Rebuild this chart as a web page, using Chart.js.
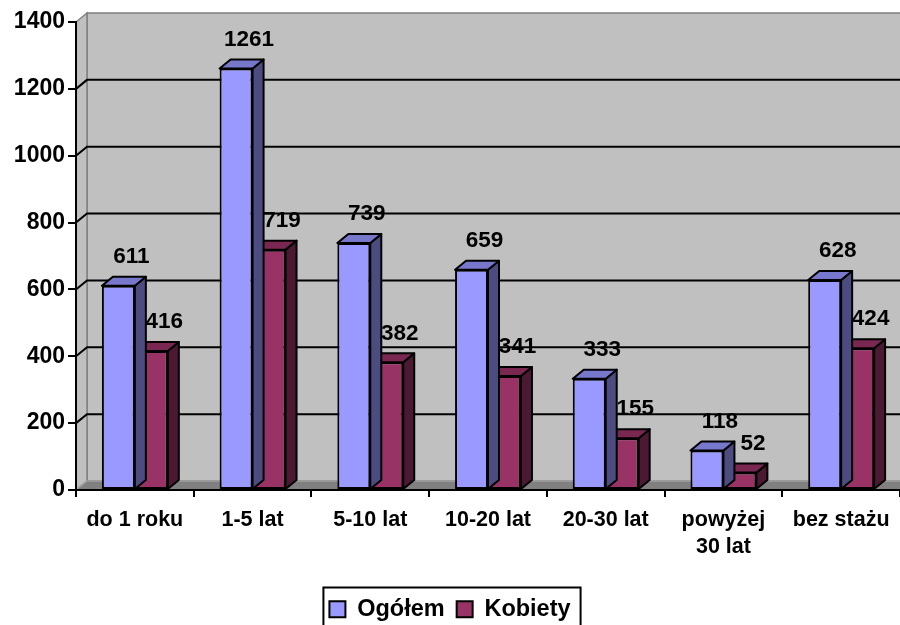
<!DOCTYPE html>
<html>
<head>
<meta charset="utf-8">
<script src="https://cdn.jsdelivr.net/npm/chart.js@4.4.1/dist/chart.umd.min.js"></script>
<style>
  html, body { margin: 0; padding: 0; background: #fff; overflow: hidden; }
</style>
</head>
<body>
<canvas id="chart" width="900" height="625"></canvas>
<script>
const categories = ["do 1 roku", "1-5 lat", "5-10 lat", "10-20 lat", "20-30 lat", ["powyżej", "30 lat"], "bez stażu"];
const ogolem = [611, 1261, 739, 659, 333, 118, 628];
const kobiety = [416, 719, 382, 341, 155, 52, 424];
const yMax = 1400;
const yStep = 200;

const FONT = "'Liberation Sans', Arial, sans-serif";
// depth of the 3D effect
const DX = 11, DY = -9;

const faces = [
  { top: "#7777cc", side: "#4c4c80" },
  { top: "#7a2852", side: "#4c1933" }
];

// back wall, side wall, floor and gridlines
const walls = {
  id: "walls",
  beforeDraw(chart) {
    const { ctx, chartArea: a, scales: { y } } = chart;
    ctx.save();
    ctx.lineWidth = 1.5;
    ctx.strokeStyle = "#808080";
    ctx.fillStyle = "#c0c0c0";
    // back wall
    ctx.fillRect(a.left + DX, a.top + DY, a.right - a.left + 20, a.bottom - a.top);
    ctx.strokeRect(a.left + DX, a.top + DY, a.right - a.left + 20, a.bottom - a.top);
    // left wall
    ctx.beginPath();
    ctx.moveTo(a.left, a.bottom);
    ctx.lineTo(a.left, a.top);
    ctx.lineTo(a.left + DX, a.top + DY);
    ctx.lineTo(a.left + DX, a.bottom + DY);
    ctx.closePath();
    ctx.fill();
    ctx.stroke();
    // floor
    ctx.fillStyle = "#808080";
    ctx.strokeStyle = "#a0a0a0";
    ctx.beginPath();
    ctx.moveTo(a.left, a.bottom);
    ctx.lineTo(a.right + 20, a.bottom);
    ctx.lineTo(a.right + 20, a.bottom + DY);
    ctx.lineTo(a.left + DX, a.bottom + DY);
    ctx.closePath();
    ctx.fill();
    ctx.stroke();
    // gridlines
    ctx.strokeStyle = "#000";
    ctx.lineWidth = 2;
    y.ticks.forEach(t => {
      if (t.value === 0 || t.value === yMax) return;
      const py = y.getPixelForValue(t.value);
      ctx.beginPath();
      ctx.moveTo(a.left, py);
      ctx.lineTo(a.left + DX, py + DY);
      ctx.lineTo(a.right + 20, py + DY);
      ctx.stroke();
    });
    ctx.restore();
  }
};

// side and top faces of each bar
const bars3d = {
  id: "bars3d",
  afterDatasetDraw(chart, args) {
    const { ctx } = chart;
    const col = faces[args.index];
    ctx.save();
    ctx.lineWidth = 2;
    ctx.lineJoin = "round";
    ctx.strokeStyle = "#000";
    args.meta.data.forEach(bar => {
      const l = bar.x - bar.width / 2, r = bar.x + bar.width / 2;
      const t = bar.y, b = bar.base;
      ctx.fillStyle = col.side;
      ctx.beginPath();
      ctx.moveTo(r, t);
      ctx.lineTo(r + DX, t + DY);
      ctx.lineTo(r + DX, b + DY);
      ctx.lineTo(r, b);
      ctx.closePath();
      ctx.fill();
      ctx.stroke();
      ctx.fillStyle = col.top;
      ctx.beginPath();
      ctx.moveTo(l, t);
      ctx.lineTo(l + DX, t + DY);
      ctx.lineTo(r + DX, t + DY);
      ctx.lineTo(r, t);
      ctx.closePath();
      ctx.fill();
      ctx.stroke();
    });
    ctx.restore();
  }
};

// value labels above bars
const valueLabels = {
  id: "valueLabels",
  afterDatasetsDraw(chart) {
    const { ctx } = chart;
    ctx.save();
    ctx.font = "bold 22.5px " + FONT;
    ctx.fillStyle = "#000";
    ctx.textAlign = "center";
    ctx.textBaseline = "middle";
    chart.data.datasets.forEach((ds, i) => {
      chart.getDatasetMeta(i).data.forEach((bar, j) => {
        ctx.fillText(ds.data[j], bar.x + DX + 2, bar.y - 29);
      });
    });
    ctx.restore();
  }
};

// frame round the legend
const legendFrame = {
  id: "legendFrame",
  afterDraw(chart) {
    const boxes = chart.legend.legendHitBoxes;
    if (!boxes || !boxes.length) return;
    const left = Math.min(...boxes.map(b => b.left)) - 6;
    const right = Math.max(...boxes.map(b => b.left + b.width)) + 10;
    const top = boxes[0].top - 10;
    const { ctx } = chart;
    ctx.save();
    ctx.lineWidth = 2;
    ctx.strokeStyle = "#000";
    ctx.strokeRect(left, top, right - left, 60);
    ctx.restore();
  }
};

new Chart(document.getElementById("chart"), {
  type: "bar",
  data: {
    labels: categories,
    datasets: [
      {
        label: "Ogółem",
        data: ogolem,
        backgroundColor: "#9999ff",
        borderColor: "#000",
        borderWidth: 2,
        borderSkipped: false
      },
      {
        label: "Kobiety",
        data: kobiety,
        backgroundColor: "#993366",
        borderColor: "#000",
        borderWidth: 2,
        borderSkipped: false
      }
    ]
  },
  options: {
    responsive: false,
    animation: false,
    devicePixelRatio: 1,
    layout: { padding: { top: 22, right: 0, bottom: -6, left: 0 } },
    datasets: { bar: { barPercentage: 1, categoryPercentage: 0.56 } },
    scales: {
      x: {
        afterFit(s) { s.height = 95.5; },
        grid: { drawOnChartArea: false, tickLength: 7, color: "#000", lineWidth: 2 },
        border: { color: "#000", width: 2 },
        ticks: {
          color: "#000",
          padding: 9,
          maxRotation: 0,
          autoSkip: false,
          font: { family: FONT, size: 21.5, weight: "bold", lineHeight: 1.28 }
        }
      },
      y: {
        min: 0,
        max: yMax,
        afterFit(s) { s.width = 76; },
        grid: { drawOnChartArea: false, tickLength: 8, color: "#000", lineWidth: 2 },
        border: { color: "#000", width: 2 },
        ticks: {
          stepSize: yStep,
          color: "#000",
          padding: 3,
          callback: v => String(v),
          font: { family: FONT, size: 23, weight: "bold" }
        }
      }
    },
    plugins: {
      legend: {
        position: "bottom",
        labels: {
          color: "#000",
          boxWidth: 16,
          boxHeight: 16,
          padding: 12,
          font: { family: FONT, size: 23.5, weight: "bold" }
        }
      },
      tooltip: { enabled: false }
    }
  },
  plugins: [walls, bars3d, valueLabels, legendFrame]
});
</script>
</body>
</html>
